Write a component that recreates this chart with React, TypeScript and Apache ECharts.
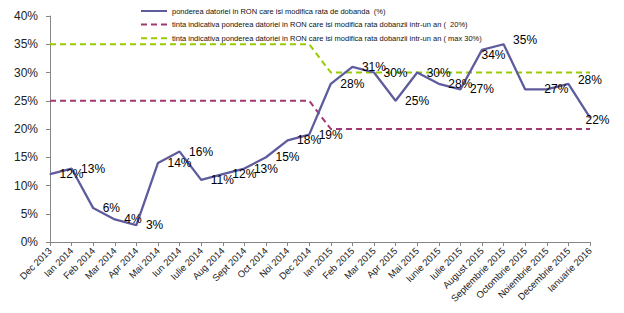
import React, { useEffect, useRef } from "react";
import * as echarts from "echarts";

const categories = [
  "Dec 2013", "Ian 2014", "Feb 2014", "Mar 2014", "Apr 2014", "Mai 2014", "Iun 2014",
  "Iulie 2014", "Aug 2014", "Sept 2014", "Oct 2014", "Noi 2014", "Dec 2014", "Ian 2015",
  "Feb 2015", "Mar 2015", "Apr 2015", "Mai 2015", "Iunie 2015", "Iulie 2015", "August 2015",
  "Septembrie 2015", "Octombrie 2015", "Noiembrie 2015", "Decembrie 2015", "Ianuarie 2016",
];

const pondereaValues = [12, 13, 6, 4, 3, 14, 16, 11, 12, 13, 15, 18, 19, 28, 31, 30, 25, 30, 28, 27, 34, 35, 27, 27, 28, 22];
const tinta20Values = [25, 25, 25, 25, 25, 25, 25, 25, 25, 25, 25, 25, 25, 20, 20, 20, 20, 20, 20, 20, 20, 20, 20, 20, 20, 20];
const tinta30Values = [35, 35, 35, 35, 35, 35, 35, 35, 35, 35, 35, 35, 35, 30, 30, 30, 30, 30, 30, 30, 30, 30, 30, 30, 30, 30];

const yTicks = [0, 5, 10, 15, 20, 25, 30, 35, 40];

const seriesNames = [
  "ponderea datoriei in RON care isi modifica rata de dobanda  (%)",
  "tinta indicativa ponderea datoriei in RON care isi modifica rata dobanzii intr-un an (  20%)",
  "tinta indicativa ponderea datoriei in RON care isi modifica rata dobanzii intr-un an ( max 30%)",
];

const FONT = "'Liberation Sans', Arial, sans-serif";

// manual label adjustments (as in the original, some labels were moved by hand)
const labelTweaks: Record<number, any> = {
  20: { offset: [-10, 5] },
  21: { offset: [0, -4] },
  22: { show: false },
  23: { offset: [-12, 0] },
  24: { offset: [0, -4] },
  25: { offset: [-14, 2] },
};

export default function App() {
  const ref = useRef<HTMLDivElement>(null);
  useEffect(() => {
    document.body.style.margin = "0";
    if (!ref.current) return;
    const chart = echarts.init(ref.current, undefined, { renderer: "svg" });
    const mainData = pondereaValues.map((v, i) =>
      labelTweaks[i] ? { value: v, label: labelTweaks[i] } : v
    );
    chart.setOption({
      animation: false,
      textStyle: { fontFamily: FONT },
      grid: { left: 50, right: 34, top: 16, bottom: 71, containLabel: false },
      legend: {
        orient: "vertical",
        left: 135,
        top: 2,
        itemWidth: 26,
        itemHeight: 8,
        itemGap: 5.6,
        itemStyle: { opacity: 0 },
        textStyle: { fontSize: 7.5, color: "#111", fontFamily: FONT },
        data: seriesNames,
      },
      xAxis: {
        type: "category",
        data: categories,
        boundaryGap: false,
        axisLine: { show: true, lineStyle: { color: "#868686", width: 1 } },
        axisTick: { show: true, interval: 0, length: 4, lineStyle: { color: "#868686" } },
        axisLabel: {
          interval: 0,
          rotate: 45,
          fontSize: 9.5,
          color: "#222",
          margin: 7,
          fontFamily: FONT,
        },
        splitLine: { show: false },
      },
      yAxis: {
        type: "value",
        min: yTicks[0],
        max: yTicks[yTicks.length - 1],
        interval: 5,
        axisLine: { show: true, lineStyle: { color: "#868686", width: 1 } },
        axisTick: { show: true, length: 4, lineStyle: { color: "#868686" } },
        axisLabel: {
          formatter: "{value}%",
          fontSize: 12,
          color: "#222",
          margin: 12,
          fontFamily: FONT,
        },
        splitLine: { show: false },
      },
      series: [
        {
          name: seriesNames[0],
          type: "line",
          data: mainData,
          symbol: "circle",
          symbolSize: 1,
          showSymbol: true,
          itemStyle: { color: "#5E5C9D" },
          lineStyle: { color: "#5E5C9D", width: 2.3 },
          label: {
            show: true,
            position: "right",
            distance: 9,
            formatter: "{c}%",
            fontSize: 12,
            color: "#000",
            fontFamily: FONT,
          },
          z: 3,
        },
        {
          name: seriesNames[1],
          type: "line",
          data: tinta20Values,
          symbol: "none",
          itemStyle: { color: "#A23A72" },
          lineStyle: { color: "#A23A72", width: 2, type: [6, 4] },
          z: 2,
        },
        {
          name: seriesNames[2],
          type: "line",
          data: tinta30Values,
          symbol: "none",
          itemStyle: { color: "#99CC00" },
          lineStyle: { color: "#99CC00", width: 2, type: [6, 4] },
          z: 2,
        },
      ],
    });
    return () => chart.dispose();
  }, []);
  return <div ref={ref} style={{ width: 624, height: 313 }} />;
}
